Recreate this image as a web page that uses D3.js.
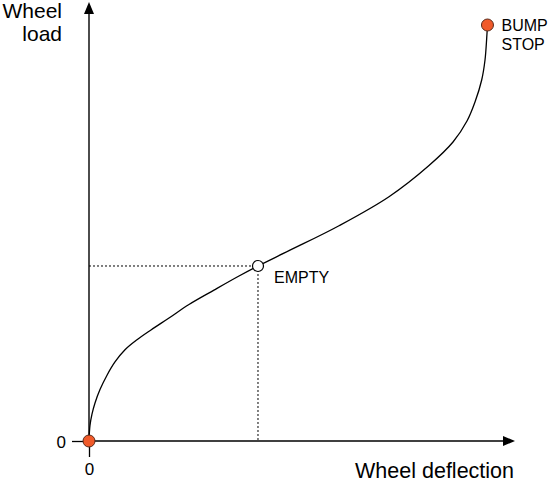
<!DOCTYPE html>
<html><head><meta charset="utf-8">
<script src="https://cdn.jsdelivr.net/npm/d3@7"></script>
<style>body{margin:0;background:#fff}svg{display:block;font-family:"Liberation Sans",Arial,sans-serif}</style>
</head><body><svg id="c" width="550" height="482"></svg>
<script>
const curveX = [0,0.23,0.70,1.41,2.58,4.23,6.10,8.45,11.27,14.55,18.78,23.47,29.34,35.21,39.67,46.95,58.69,70.42,79.81,85.45,88.73,90.61,92.18,92.96,93.36,93.54];
const curveY = [0,3.56,6.15,8.72,11.79,15.09,18.12,20.92,23.21,25.46,28.21,31.31,34.61,37.84,40.14,43.65,49.38,56.03,63.19,68.58,73.39,77.75,82.80,87.39,92.43,95.41];
const emptyPt = {x:39.67, y:40.14, label:"EMPTY"};
const bumpPt = {x:93.54, y:95.41, label:["BUMP","STOP"]};
const xTicks = [0], yTicks = [0];
const xTitle = "Wheel deflection", yTitle = ["Wheel","load"];

const svg = d3.select("#c");
const x = d3.scaleLinear().domain([0,100]).range([89,515]);
const y = d3.scaleLinear().domain([0,100]).range([441,5]);

const gx = svg.append("g").attr("transform",`translate(0,${y(0)})`)
  .call(d3.axisBottom(x).tickValues(xTicks).tickSize(16).tickPadding(6).tickFormat(d3.format("d")));
const gy = svg.append("g").attr("transform",`translate(${x(0)},0)`)
  .call(d3.axisLeft(y).tickValues(yTicks).tickSize(17).tickPadding(6).tickFormat(d3.format("d")));
[gx,gy].forEach(g=>{
  g.select(".domain").remove();
  g.selectAll("line").attr("stroke","#000").attr("stroke-width",1.3);
  g.selectAll("text").attr("font-size",17).attr("fill","#000").attr("font-family","Liberation Sans, Arial, sans-serif");
});
gy.selectAll("text").attr("dy","0.36em");

svg.append("line").attr("x1",x(0)).attr("y1",y(0)).attr("x2",x(100)-10).attr("y2",y(0)).attr("stroke","#000").attr("stroke-width",1.4);
svg.append("line").attr("x1",x(0)).attr("y1",y(0)).attr("x2",x(0)).attr("y2",y(100)+8).attr("stroke","#000").attr("stroke-width",1.4);
svg.append("path").attr("d",`M${x(100)},${y(0)} l-12,-5 l0,10 z`).attr("fill","#000");
svg.append("path").attr("d",`M${x(0)},${y(100)-3} l-5,12 l10,0 z`).attr("fill","#000");

svg.append("line").attr("x1",x(0)).attr("y1",y(emptyPt.y)).attr("x2",x(emptyPt.x)).attr("y2",y(emptyPt.y))
  .attr("stroke","#000").attr("stroke-width",1).attr("stroke-dasharray","2,2");
svg.append("line").attr("x1",x(emptyPt.x)).attr("y1",y(emptyPt.y)).attr("x2",x(emptyPt.x)).attr("y2",y(0))
  .attr("stroke","#000").attr("stroke-width",1).attr("stroke-dasharray","2,2");

const pts = curveX.map((d,i)=>[d,curveY[i]]);
svg.append("path").datum(pts)
  .attr("d", d3.line().x(d=>x(d[0])).y(d=>y(d[1])).curve(d3.curveCatmullRom.alpha(0.5)))
  .attr("fill","none").attr("stroke","#000").attr("stroke-width",1.3);

svg.append("circle").attr("cx",x(0)).attr("cy",y(0)).attr("r",6).attr("fill","#f05a2a").attr("stroke","#5a2a1a").attr("stroke-width",1);
svg.append("circle").attr("cx",x(bumpPt.x)).attr("cy",y(bumpPt.y)).attr("r",6).attr("fill","#f05a2a").attr("stroke","#5a2a1a").attr("stroke-width",1);
svg.append("circle").attr("cx",x(emptyPt.x)).attr("cy",y(emptyPt.y)).attr("r",5.5).attr("fill","#fff").attr("stroke","#000").attr("stroke-width",1.2);

svg.append("text").attr("x",x(emptyPt.x)+16).attr("y",y(emptyPt.y)+17).attr("font-size",16).text(emptyPt.label);
bumpPt.label.forEach((t,i)=>svg.append("text").attr("x",x(bumpPt.x)+14).attr("y",y(bumpPt.y)+6+i*19).attr("font-size",16).text(t));
svg.append("text").attr("x",514).attr("y",478).attr("text-anchor","end").attr("font-size",21.5).text(xTitle);
yTitle.forEach((t,i)=>svg.append("text").attr("x",62).attr("y",18+i*23).attr("text-anchor","end").attr("font-size",21).text(t));
</script></body></html>
